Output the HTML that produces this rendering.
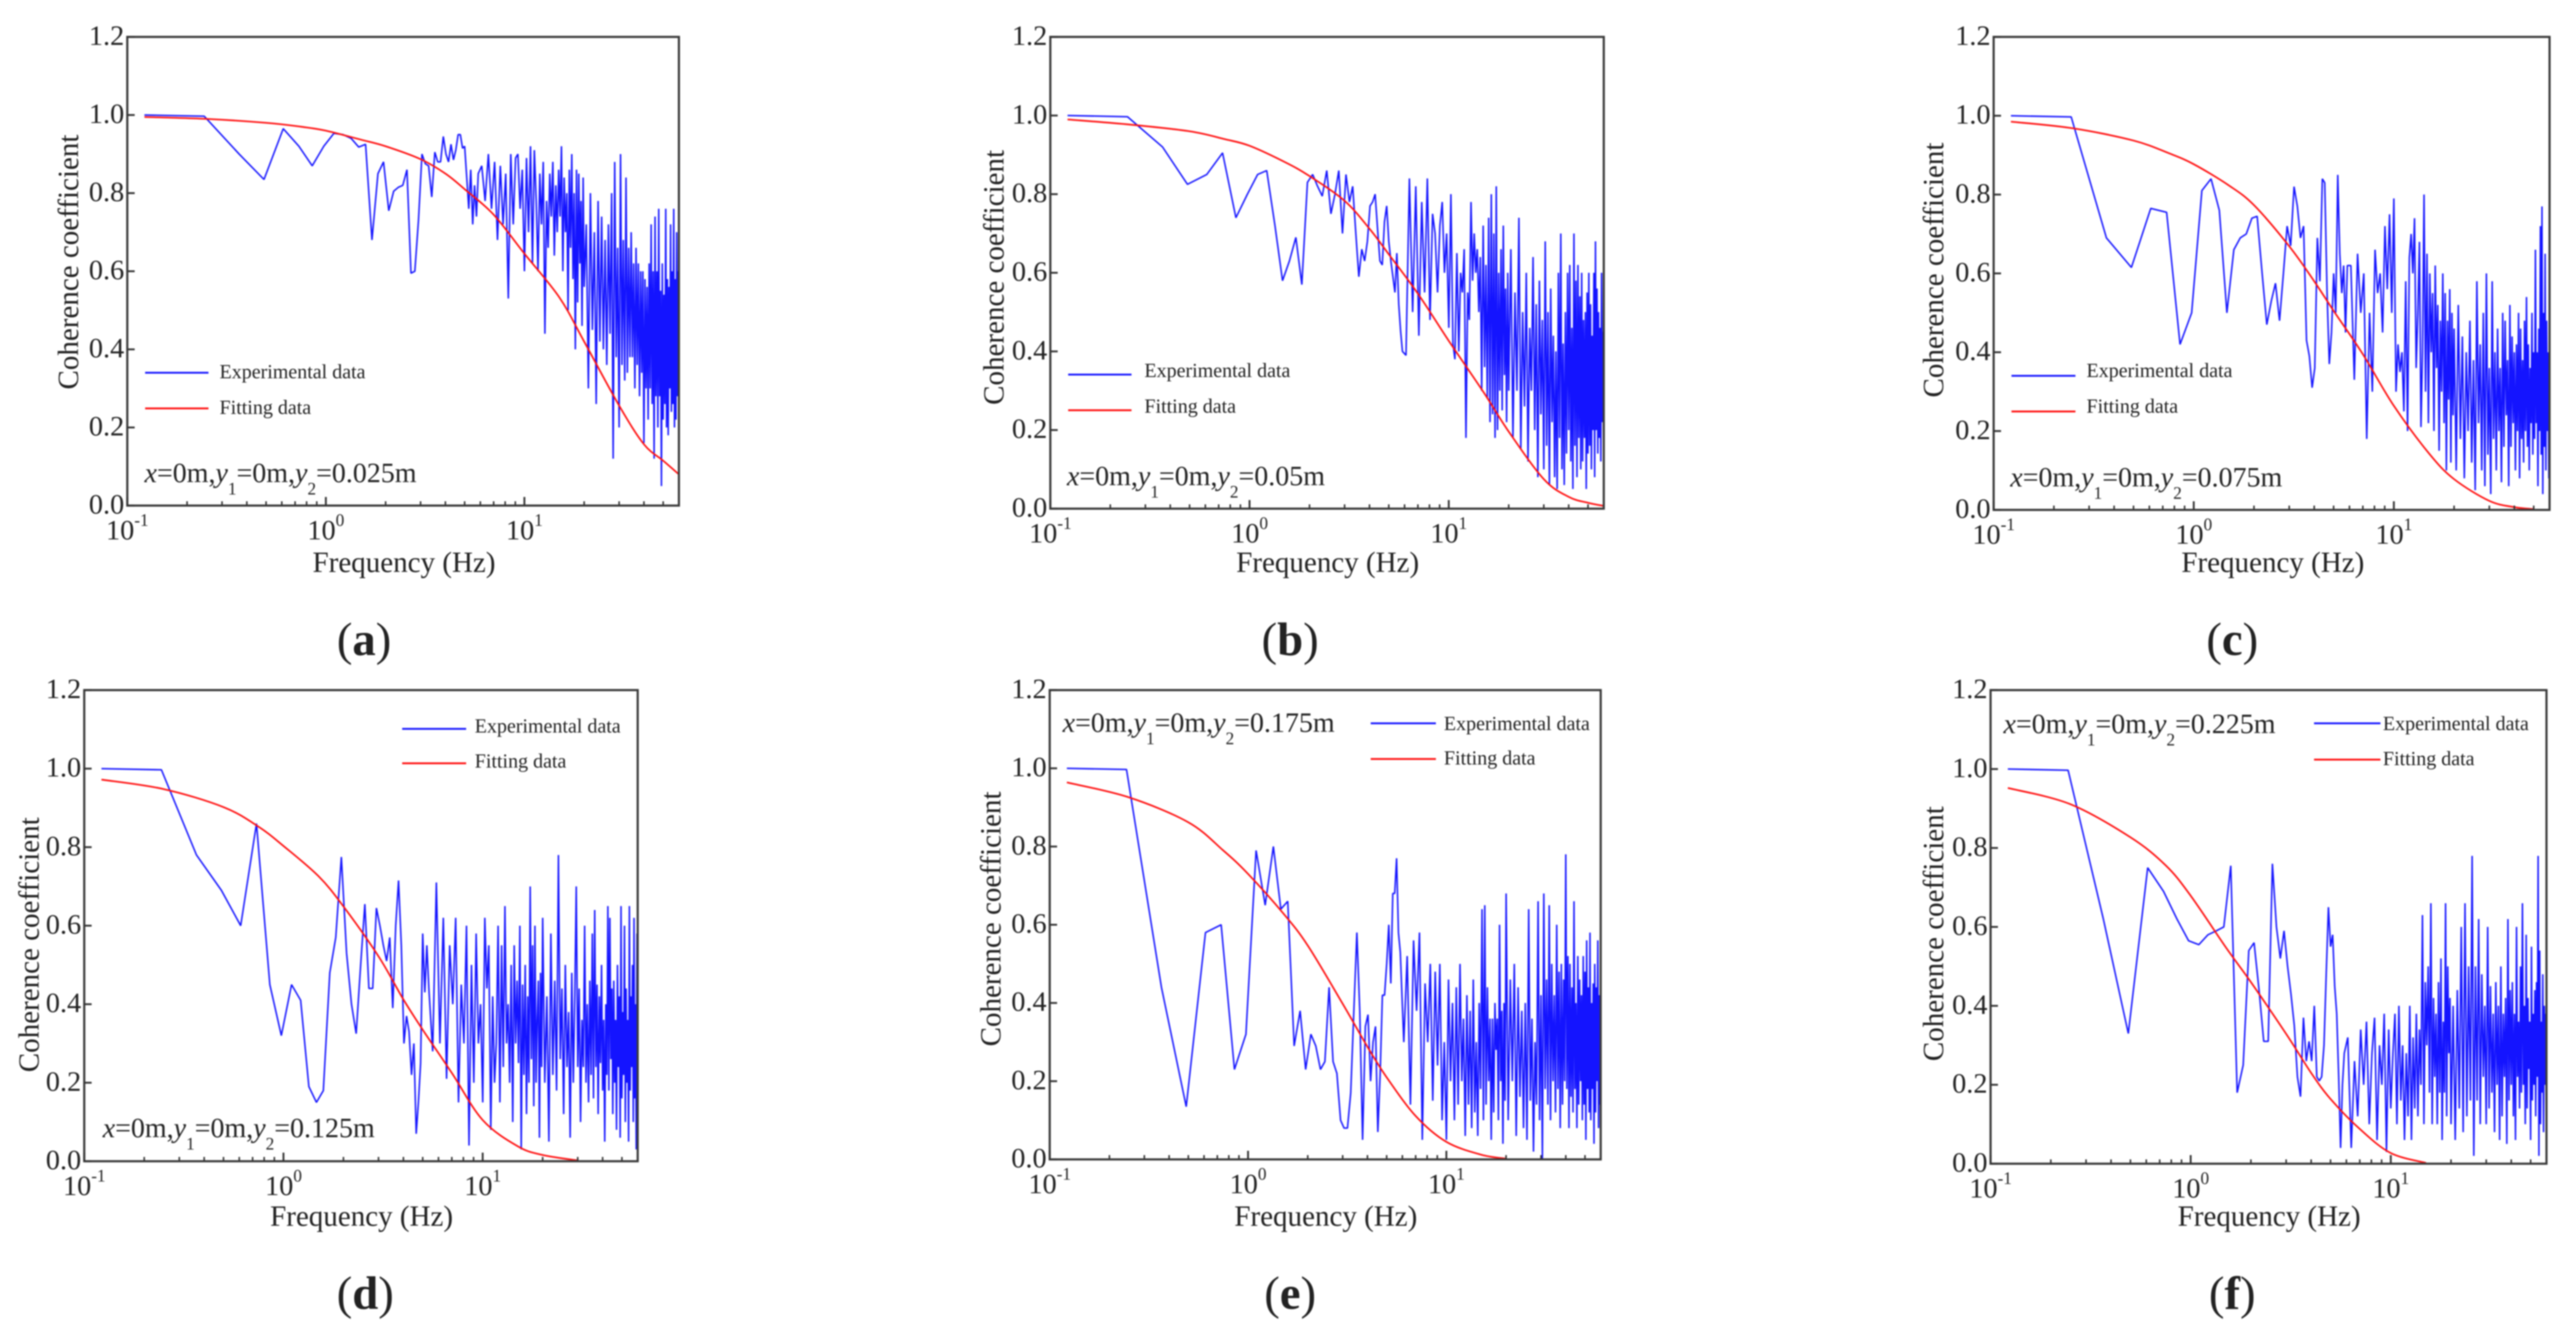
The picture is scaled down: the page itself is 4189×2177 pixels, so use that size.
<!DOCTYPE html>
<html lang="en">
<head>
<meta charset="utf-8">
<title>Coherence coefficient panels</title>
<style>
html,body{margin:0;padding:0;background:#fff;}
svg{display:block;filter:blur(1px);}
text{font-family:"Liberation Serif",serif;fill:#222;}
.title{font-size:47.2px;}
.legend{font-size:32.5px;}
.ann{font-size:45.5px;}
.sub{font-size:28px;}
.cap{font-size:76px;}
.cap .b{font-weight:bold;}
.tick{font-size:46px;}
.sup{font-size:28px;}
</style>
</head>
<body>
<svg id="figure" xmlns="http://www.w3.org/2000/svg" width="4189" height="2177" viewBox="0 0 4189 2177">
<rect x="0" y="0" width="4189" height="2177" fill="#fff"/>

<g id="panel-a">
<text class="title" transform="translate(127,426) rotate(-90)" text-anchor="middle">Coherence coefficient</text>
<text class="title" x="657" y="930" text-anchor="middle">Frequency (Hz)</text>
<line x1="236" x2="339" y1="606" y2="606" stroke="#1414ff" stroke-width="3"/>
<text class="legend" x="357" y="615">Experimental data</text>
<line x1="236" x2="339" y1="664" y2="664" stroke="#ff1010" stroke-width="3"/>
<text class="legend" x="357" y="673">Fitting data</text>
<text class="ann" x="235" y="784"><tspan font-style="italic">x</tspan>=0m,<tspan font-style="italic">y</tspan><tspan class="sub" dy="20">1</tspan><tspan dy="-20">=0m,</tspan><tspan font-style="italic">y</tspan><tspan class="sub" dy="20">2</tspan><tspan dy="-20">=0.025m</tspan></text>
<text class="cap" x="592" y="1065" text-anchor="middle">(<tspan class="b">a</tspan>)</text>
</g>

<g id="panel-b">
<text class="title" transform="translate(1632,451) rotate(-90)" text-anchor="middle">Coherence coefficient</text>
<text class="title" x="2159" y="930" text-anchor="middle">Frequency (Hz)</text>
<line x1="1737" x2="1840" y1="609" y2="609" stroke="#1414ff" stroke-width="3"/>
<text class="legend" x="1861" y="613">Experimental data</text>
<line x1="1737" x2="1840" y1="667" y2="667" stroke="#ff1010" stroke-width="3"/>
<text class="legend" x="1861" y="671">Fitting data</text>
<text class="ann" x="1735" y="789"><tspan font-style="italic">x</tspan>=0m,<tspan font-style="italic">y</tspan><tspan class="sub" dy="20">1</tspan><tspan dy="-20">=0m,</tspan><tspan font-style="italic">y</tspan><tspan class="sub" dy="20">2</tspan><tspan dy="-20">=0.05m</tspan></text>
<text class="cap" x="2098" y="1065" text-anchor="middle">(<tspan class="b">b</tspan>)</text>
</g>

<g id="panel-c">
<text class="title" transform="translate(3160,439) rotate(-90)" text-anchor="middle">Coherence coefficient</text>
<text class="title" x="3696" y="930" text-anchor="middle">Frequency (Hz)</text>
<line x1="3271" x2="3375" y1="611" y2="611" stroke="#1414ff" stroke-width="3"/>
<text class="legend" x="3393" y="613">Experimental data</text>
<line x1="3271" x2="3375" y1="669" y2="669" stroke="#ff1010" stroke-width="3"/>
<text class="legend" x="3393" y="671">Fitting data</text>
<text class="ann" x="3269" y="791"><tspan font-style="italic">x</tspan>=0m,<tspan font-style="italic">y</tspan><tspan class="sub" dy="20">1</tspan><tspan dy="-20">=0m,</tspan><tspan font-style="italic">y</tspan><tspan class="sub" dy="20">2</tspan><tspan dy="-20">=0.075m</tspan></text>
<text class="cap" x="3630" y="1065" text-anchor="middle">(<tspan class="b">c</tspan>)</text>
</g>

<g id="panel-d">
<text class="title" transform="translate(63,1536) rotate(-90)" text-anchor="middle">Coherence coefficient</text>
<text class="title" x="588" y="1993" text-anchor="middle">Frequency (Hz)</text>
<line x1="654" x2="758" y1="1185" y2="1185" stroke="#1414ff" stroke-width="3"/>
<text class="legend" x="772" y="1191">Experimental data</text>
<line x1="654" x2="758" y1="1241" y2="1241" stroke="#ff1010" stroke-width="3"/>
<text class="legend" x="772" y="1248">Fitting data</text>
<text class="ann" x="167" y="1849"><tspan font-style="italic">x</tspan>=0m,<tspan font-style="italic">y</tspan><tspan class="sub" dy="20">1</tspan><tspan dy="-20">=0m,</tspan><tspan font-style="italic">y</tspan><tspan class="sub" dy="20">2</tspan><tspan dy="-20">=0.125m</tspan></text>
<text class="cap" x="594" y="2128" text-anchor="middle">(<tspan class="b">d</tspan>)</text>
</g>

<g id="panel-e">
<text class="title" transform="translate(1627,1494) rotate(-90)" text-anchor="middle">Coherence coefficient</text>
<text class="title" x="2156" y="1993" text-anchor="middle">Frequency (Hz)</text>
<line x1="2229" x2="2335" y1="1176" y2="1176" stroke="#1414ff" stroke-width="3"/>
<text class="legend" x="2348" y="1187">Experimental data</text>
<line x1="2229" x2="2335" y1="1234" y2="1234" stroke="#ff1010" stroke-width="3"/>
<text class="legend" x="2348" y="1243">Fitting data</text>
<text class="ann" x="1728" y="1190"><tspan font-style="italic">x</tspan>=0m,<tspan font-style="italic">y</tspan><tspan class="sub" dy="20">1</tspan><tspan dy="-20">=0m,</tspan><tspan font-style="italic">y</tspan><tspan class="sub" dy="20">2</tspan><tspan dy="-20">=0.175m</tspan></text>
<text class="cap" x="2098" y="2128" text-anchor="middle">(<tspan class="b">e</tspan>)</text>
</g>

<g id="panel-f">
<text class="title" transform="translate(3160,1518) rotate(-90)" text-anchor="middle">Coherence coefficient</text>
<text class="title" x="3690" y="1993" text-anchor="middle">Frequency (Hz)</text>
<line x1="3763" x2="3871" y1="1176" y2="1176" stroke="#1414ff" stroke-width="3"/>
<text class="legend" x="3875" y="1187">Experimental data</text>
<line x1="3763" x2="3871" y1="1235" y2="1235" stroke="#ff1010" stroke-width="3"/>
<text class="legend" x="3875" y="1244">Fitting data</text>
<text class="ann" x="3258" y="1192"><tspan font-style="italic">x</tspan>=0m,<tspan font-style="italic">y</tspan><tspan class="sub" dy="20">1</tspan><tspan dy="-20">=0m,</tspan><tspan font-style="italic">y</tspan><tspan class="sub" dy="20">2</tspan><tspan dy="-20">=0.225m</tspan></text>
<text class="cap" x="3630" y="2128" text-anchor="middle">(<tspan class="b">f</tspan>)</text>
</g>
</svg>

<script>
var yTickValues = [0, 0.2, 0.4, 0.6, 0.8, 1.0, 1.2];
var yTickLabels = ['0.0', '0.2', '0.4', '0.6', '0.8', '1.0', '1.2'];
var xMajorTicks = [0.1, 1, 10];
var xMajorExponents = ['-1', '0', '1'];
var xMinorTicks = [0.2, 0.3, 0.4, 0.5, 0.6, 0.7, 0.8, 0.9, 2, 3, 4, 5, 6, 7, 8, 9, 20, 30, 40, 50];

var frequencies = [
0.122,0.244,0.366,0.488,0.61,0.732,0.854,0.976,
1.098,1.22,1.342,1.464,1.586,1.708,1.83,1.952,
2.074,2.196,2.318,2.44,2.562,2.684,2.806,2.928,
3.05,3.172,3.294,3.416,3.538,3.66,3.782,3.904,
4.026,4.148,4.27,4.392,4.514,4.636,4.758,4.88,
5.002,5.124,5.246,5.368,5.49,5.612,5.734,5.856,
6.1,6.344,6.588,6.832,7.076,7.32,7.564,7.808,8.052,8.296,
8.54,8.784,9.028,9.272,9.516,9.76,10.004,10.248,10.492,10.736,
10.98,11.224,11.468,11.712,11.956,12.2,12.444,12.688,12.932,13.176,
13.42,13.664,13.908,14.152,14.396,14.64,14.884,15.128,15.372,15.616,
15.86,16.104,16.348,16.592,16.836,17.08,17.324,17.568,17.812,18.056,
18.3,18.544,18.788,19.032,19.276,19.52,19.764,20.008,
20.5,21,21.5,22,22.5,23,23.5,24,24.5,25,
25.5,26,26.5,27,27.5,28,28.5,29,29.5,30,
30.5,31,31.5,32,32.5,33,33.5,34,34.5,35,
35.5,36,36.5,37,37.5,38,38.5,39,39.5,40,
40.5,41,41.5,42,42.5,43,43.5,44,44.5,45,
45.5,46,46.5,47,47.5,48,48.5,49,49.5,50,
50.5,51,51.5,52,52.5,53,53.5,54,54.5,55,
55.5,56,56.5,57,57.5,58,58.5,59,59.5,60];

var experimentalA = [
1.0,.997,.90,.835,.965,.92,.87,.92,
.953,.95,.94,.918,.925,.68,.85,.88,
.755,.805,.815,.82,.86,.595,.60,.73,
.90,.875,.87,.79,.905,.88,.88,.945,
.90,.88,.925,.885,.91,.95,.95,.915,
.92,.84,.76,.86,.72,.82,.74,.85,
.87,.78,.90,.76,.88,.68,.87,.72,.85,.53,
.90,.72,.89,.90,.76,.86,.60,.89,.70,.92,
.62,.91,.78,.60,.85,.72,.88,.44,.78,.66,
.85,.74,.88,.64,.82,.70,.86,.74,.92,.60,
.84,.70,.80,.50,.86,.66,.90,.58,.80,.40,
.86,.52,.85,.62,.78,.46,.84,.56,
.72,.30,.80,.45,.70,.26,.78,.42,.74,.40,
.68,.36,.72,.44,.80,.12,.88,.38,.66,.20,
.90,.36,.68,.32,.84,.34,.66,.38,.70,.38,
.62,.30,.66,.36,.62,.28,.60,.34,.60,.16,
.58,.30,.56,.22,.62,.30,.72,.26,.60,.12,
.74,.28,.60,.20,.76,.28,.55,.05,.62,.22,
.54,.26,.76,.20,.58,.18,.56,.30,.72,.24,
.60,.26,.76,.20,.58,.22,.70,.28,.60,.25];

var experimentalB = [
1.0,.997,.92,.825,.85,.905,.74,.80,
.85,.86,.72,.58,.63,.69,.57,.83,
.85,.82,.795,.86,.75,.80,.86,.70,
.85,.78,.82,.70,.59,.66,.63,.68,
.77,.78,.80,.71,.63,.62,.73,.77,
.68,.63,.59,.55,.65,.52,.45,.40,
.39,.84,.50,.82,.44,.78,.55,.84,.48,.75,
.70,.55,.72,.78,.60,.70,.46,.80,.42,.38,
.65,.40,.60,.55,.66,.18,.55,.48,.78,.58,
.70,.60,.66,.50,.64,.30,.72,.36,.62,.28,
.74,.22,.80,.24,.70,.18,.82,.20,.60,.30,
.66,.25,.72,.34,.56,.22,.60,.30,
.66,.18,.55,.30,.74,.15,.50,.26,.60,.12,
.46,.30,.64,.20,.52,.08,.58,.24,.48,.10,
.68,.16,.50,.06,.56,.22,.44,.08,.40,.05,
.60,.18,.70,.10,.42,.06,.50,.14,.60,.20,
.62,.12,.46,.05,.70,.16,.58,.08,.62,.18,
.54,.10,.60,.12,.48,.18,.50,.05,.55,.14,
.60,.16,.52,.10,.44,.20,.60,.08,.68,.20,
.56,.14,.50,.18,.46,.12,.60,.22,.45,.08];

var experimentalC = [
1.0,.997,.69,.615,.765,.755,.42,.50,
.81,.84,.76,.50,.66,.69,.70,.74,
.745,.60,.47,.53,.575,.48,.60,.72,
.67,.82,.77,.69,.72,.43,.39,.31,
.36,.69,.58,.84,.83,.55,.37,.45,
.60,.50,.85,.65,.55,.62,.45,.62,
.62,.33,.65,.50,.60,.18,.50,.30,.66,.55,
.60,.45,.72,.56,.75,.50,.79,.30,.42,.35,
.40,.25,.58,.20,.64,.70,.60,.74,.36,.50,
.68,.21,.40,.80,.30,.65,.22,.60,.40,.55,
.20,.62,.36,.52,.15,.48,.30,.60,.22,.55,
.10,.48,.28,.56,.12,.50,.24,.46,
.10,.52,.18,.44,.08,.40,.20,.48,.12,.38,
.05,.58,.22,.42,.10,.50,.06,.60,.14,.36,
.04,.58,.18,.40,.10,.46,.20,.36,.07,.50,
.16,.48,.24,.38,.06,.52,.16,.44,.22,.40,
.10,.42,.20,.50,.08,.46,.18,.38,.12,.48,
.20,.54,.16,.42,.10,.36,.22,.50,.14,.40,
.18,.66,.22,.40,.06,.46,.20,.72,.14,.77,
.04,.50,.16,.65,.10,.48,.20,.40,.08,.46];

var experimentalD = [
1.0,.997,.78,.69,.60,.86,.45,.32,
.45,.41,.19,.15,.18,.48,.57,.775,
.53,.40,.325,.50,.655,.44,.44,.645,
.60,.55,.51,.57,.39,.60,.715,.55,
.30,.37,.33,.22,.30,.07,.15,.25,
.58,.43,.55,.44,.36,.28,.50,.71,
.30,.62,.21,.55,.40,.62,.15,.45,.30,.60,
.04,.50,.20,.58,.30,.40,.15,.62,.44,.55,
.08,.42,.20,.30,.60,.15,.55,.24,.65,.30,
.40,.20,.50,.10,.55,.30,.46,.25,.60,.03,
.45,.22,.50,.12,.42,.20,.70,.26,.55,.14,
.60,.20,.36,.46,.06,.48,.24,.62,
.20,.42,.05,.58,.22,.46,.18,.78,.26,.44,
.12,.50,.24,.38,.06,.48,.20,.42,.70,.24,
.44,.10,.36,.24,.60,.20,.40,.15,.46,.22,
.58,.16,.64,.24,.45,.12,.42,.25,.50,.18,
.36,.05,.40,.22,.65,.18,.62,.26,.44,.12,
.46,.20,.36,.08,.50,.24,.42,.06,.65,.16,
.38,.22,.60,.10,.44,.20,.36,.05,.65,.18,
.42,.24,.50,.10,.62,.16,.40,.03,.58,.14];

var experimentalE = [
1.0,.997,.44,.135,.58,.60,.23,.32,
.79,.65,.80,.64,.66,.29,.38,.23,
.32,.29,.23,.25,.44,.25,.22,.10,
.08,.08,.17,.38,.58,.38,.05,.34,
.37,.20,.30,.34,.07,.22,.42,.42,
.50,.60,.45,.68,.68,.77,.58,.53,
.30,.52,.14,.56,.38,.58,.05,.45,.30,.50,
.15,.48,.24,.50,.10,.30,.05,.46,.20,.40,
.10,.44,.14,.50,.20,.36,.06,.42,.14,.38,
.08,.46,.12,.30,.06,.40,.18,.64,.10,.65,
.14,.44,.20,.36,.05,.36,.12,.40,.28,.36,
.10,.60,.20,.38,.04,.40,.15,.68,
.10,.46,.20,.50,.06,.44,.16,.38,.08,.40,
.05,.64,.15,.36,.02,.30,.14,.66,.10,.42,
.00,.68,.18,.46,.14,.65,.10,.50,.20,.42,
.12,.60,.18,.48,.08,.50,.14,.46,.20,.78,
.18,.52,.08,.50,.16,.44,.12,.66,.18,.40,
.08,.52,.14,.46,.20,.42,.10,.52,.14,.48,
.05,.56,.18,.44,.12,.58,.10,.40,.18,.45,
.04,.50,.12,.44,.20,.56,.08,.42,.14,.53];

var experimentalF = [
1.0,.997,.62,.33,.75,.69,.62,.565,
.555,.58,.59,.60,.755,.18,.25,.54,
.56,.44,.31,.31,.76,.60,.52,.59,
.50,.43,.35,.22,.17,.37,.26,.31,
.26,.40,.22,.21,.22,.30,.48,.65,
.55,.58,.45,.38,.22,.04,.20,.28,
.32,.04,.26,.12,.34,.20,.36,.10,.28,.37,
.06,.30,.20,.38,.03,.34,.14,.28,.38,.10,
.40,.16,.30,.06,.28,.12,.40,.06,.32,.14,
.38,.12,.34,.20,.63,.10,.46,.30,.50,.18,
.66,.10,.42,.22,.38,.10,.46,.18,.52,.06,
.36,.18,.66,.12,.50,.28,.42,.10,
.40,.06,.44,.14,.60,.08,.66,.12,.50,.16,
.78,.02,.50,.16,.62,.10,.48,.22,.40,.10,
.60,.14,.45,.18,.38,.08,.46,.20,.40,.06,
.50,.12,.38,.22,.42,.05,.62,.16,.44,.20,
.46,.12,.38,.06,.60,.22,.36,.14,.50,.18,
.66,.20,.40,.10,.58,.14,.42,.24,.36,.06,
.55,.16,.38,.20,.44,.12,.46,.22,.78,.02,
.54,.10,.36,.18,.48,.08,.40,.20,.38,.07];

var fitFrequencies = [0.122,0.25,0.5,0.75,1,1.5,2,3,4,5,7,10,15,20,30,40,50,60];
var fittingA = [.995,.99,.98,.97,.96,.937,.92,.887,.85,.81,.745,.645,.533,.42,.256,.157,.115,.08];
var fittingB = [.99,.977,.96,.94,.923,.882,.846,.783,.712,.647,.547,.427,.295,.196,.075,.03,.015,.007];
var fittingC = [.985,.968,.937,.905,.877,.823,.773,.669,.58,.505,.395,.264,.143,.078,.023,.007,.002,null];
var fittingD = [.972,.948,.902,.852,.803,.726,.649,.522,.412,.335,.225,.105,.038,.016,.002,null,null,null];
var fittingE = [.964,.926,.862,.79,.73,.63,.547,.398,.288,.21,.111,.045,.012,.002,null,null,null,null];
var fittingF = [.952,.911,.827,.756,.679,.548,.46,.329,.23,.164,.088,.027,.002,null,null,null,null,null];

var layout = [
  {id:'a', left:207,  right:1104, top:60,   bottom:822,  exp:experimentalA, fit:fittingA},
  {id:'b', left:1708, right:2608, top:60,   bottom:827,  exp:experimentalB, fit:fittingB},
  {id:'c', left:3242, right:4146, top:60,   bottom:829,  exp:experimentalC, fit:fittingC},
  {id:'d', left:137,  right:1037, top:1122, bottom:1888, exp:experimentalD, fit:fittingD},
  {id:'e', left:1707, right:2603, top:1122, bottom:1885, exp:experimentalE, fit:fittingE},
  {id:'f', left:3237, right:4141, top:1122, bottom:1892, exp:experimentalF, fit:fittingF}
];

var SVG_NS = 'http://www.w3.org/2000/svg';
var X_MIN = 0.1, X_MAX = 60, Y_MAX = 1.2;

function createSvg(tag, parent) {
  var node = document.createElementNS(SVG_NS, tag);
  parent.appendChild(node);
  return node;
}
function makeXScale(p) {
  var span = Math.log10(X_MAX) - Math.log10(X_MIN);
  return function (f) {
    return p.left + (Math.log10(f) - Math.log10(X_MIN)) / span * (p.right - p.left);
  };
}
function makeYScale(p) {
  return function (v) {
    return p.bottom - v / Y_MAX * (p.bottom - p.top);
  };
}
function seriesPath(xs, ys, sx, sy) {
  var d = '';
  for (var i = 0; i < ys.length && i < xs.length; i++) {
    if (ys[i] === null) break;
    d += (i ? 'L' : 'M') + sx(xs[i]).toFixed(1) + ' ' + sy(ys[i]).toFixed(1);
  }
  return d;
}
function smoothPath(xs, ys, sx, sy) {
  var pts = [];
  for (var i = 0; i < ys.length; i++) {
    if (ys[i] === null) break;
    pts.push([sx(xs[i]), sy(ys[i])]);
  }
  var d = 'M' + pts[0][0].toFixed(1) + ' ' + pts[0][1].toFixed(1);
  for (var j = 0; j < pts.length - 1; j++) {
    var p0 = pts[Math.max(j - 1, 0)], p1 = pts[j], p2 = pts[j + 1], p3 = pts[Math.min(j + 2, pts.length - 1)];
    var c1x = p1[0] + (p2[0] - p0[0]) / 6, c1y = p1[1] + (p2[1] - p0[1]) / 6;
    var c2x = p2[0] - (p3[0] - p1[0]) / 6, c2y = p2[1] - (p3[1] - p1[1]) / 6;
    d += 'C' + c1x.toFixed(1) + ' ' + c1y.toFixed(1) + ' ' + c2x.toFixed(1) + ' ' + c2y.toFixed(1) + ' ' + p2[0].toFixed(1) + ' ' + p2[1].toFixed(1);
  }
  return d;
}

layout.forEach(function (p) {
  var group = document.getElementById('panel-' + p.id);
  var sx = makeXScale(p), sy = makeYScale(p);

  var blue = createSvg('path', group);
  
  
  blue.setAttribute('d', seriesPath(frequencies, p.exp, sx, sy));
  blue.setAttribute('fill', 'none');
  blue.setAttribute('stroke', '#1414ff');
  blue.setAttribute('stroke-width', '2.4');
  blue.setAttribute('stroke-linejoin', 'bevel');

  var red = createSvg('path', group);
  
  
  red.setAttribute('d', smoothPath(fitFrequencies, p.fit, sx, sy));
  red.setAttribute('fill', 'none');
  red.setAttribute('stroke', '#ff1010');
  red.setAttribute('stroke-width', '2.7');

  var frame = createSvg('rect', group);
  
  
  frame.setAttribute('x', p.left);
  frame.setAttribute('y', p.top);
  frame.setAttribute('width', p.right - p.left);
  frame.setAttribute('height', p.bottom - p.top);
  frame.setAttribute('fill', 'none');
  frame.setAttribute('stroke', '#3a3a3a');
  frame.setAttribute('stroke-width', '3.5');

  yTickValues.forEach(function (v, i) {
    var mark = createSvg('line', group);
    
    
    mark.setAttribute('x1', p.left);
    mark.setAttribute('x2', p.left + 12);
    mark.setAttribute('y1', sy(v));
    mark.setAttribute('y2', sy(v));
    mark.setAttribute('stroke', '#333');
    mark.setAttribute('stroke-width', '3');

    var label = createSvg('text', group);
    
    
    label.setAttribute('class', 'tick');
    label.setAttribute('x', p.left - 5);
    label.setAttribute('y', sy(v) + 13);
    label.setAttribute('text-anchor', 'end');
    label.textContent = yTickLabels[i];
  });

  xMinorTicks.forEach(function (f, i) {
    var mark = createSvg('line', group);
    
    
    mark.setAttribute('x1', sx(f));
    mark.setAttribute('x2', sx(f));
    mark.setAttribute('y1', p.bottom);
    mark.setAttribute('y2', p.bottom - 7);
    mark.setAttribute('stroke', '#333');
    mark.setAttribute('stroke-width', '2.5');
  });

  xMajorTicks.forEach(function (f, i) {
    var mark = createSvg('line', group);
    
    
    mark.setAttribute('x1', sx(f));
    mark.setAttribute('x2', sx(f));
    mark.setAttribute('y1', p.bottom);
    mark.setAttribute('y2', p.bottom - 14);
    mark.setAttribute('stroke', '#333');
    mark.setAttribute('stroke-width', '3');

    var label = createSvg('text', group);
    
    
    label.setAttribute('class', 'tick');
    label.setAttribute('x', sx(f));
    label.setAttribute('y', p.bottom + 55);
    label.setAttribute('text-anchor', 'middle');
    label.textContent = '10';

    var power = createSvg('tspan', label);
    
    
    power.setAttribute('class', 'sup');
    power.setAttribute('dy', '-22');
    power.textContent = xMajorExponents[i];
  });
});
</script>
</body>
</html>
